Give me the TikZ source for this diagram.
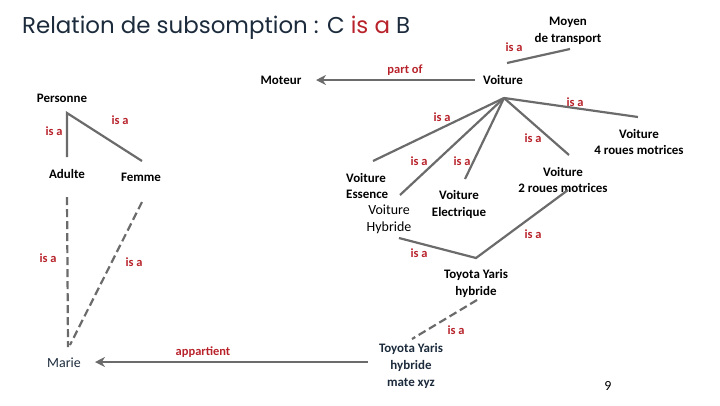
\documentclass[tikz,border=0pt]{standalone}
\usepackage{fontspec}
\setmainfont{Carlito}
\newfontfamily\titrefont{Poppins}
\usetikzlibrary{arrows.meta}
\definecolor{gristrait}{HTML}{6B6B6B}
\definecolor{rougeisa}{HTML}{B8222B}
\definecolor{bleunuit}{HTML}{1C2B3C}

\begin{document}
\begin{tikzpicture}[x=1bp,y=-1bp,>={Stealth[length=10bp,width=10bp]},
  lbl/.style={font=\fontsize{13}{17}\selectfont\bfseries,align=center,inner sep=0pt},
  fin/.style={font=\fontsize{14}{17}\selectfont,align=center,inner sep=0pt},
  rel/.style={font=\fontsize{12.5}{15}\selectfont\bfseries,text=rougeisa,inner sep=0pt},
  trait/.style={draw=gristrait,line width=2.2bp},
  pointille/.style={trait,dash pattern=on 8bp off 4bp}]

  \useasboundingbox (0,0) rectangle (720,405);

  \node[anchor=west,inner sep=0pt,text=bleunuit,font=\titrefont\fontsize{23}{26}\selectfont]
    (TITRE) at (22,28) {Relation de subsomption : C \textcolor{rougeisa}{is a} B};

  % concepts
  \node[lbl] (MT) at (568,31) {Moyen\\de transport};
  \node[lbl] (MO) at (281,80) {Moteur};
  \node[lbl] (V)  at (503,80) {Voiture};
  \node[lbl] (P)  at (62,98) {Personne};
  \node[lbl] (AD) at (67,174) {Adulte};
  \node[lbl] (FE) at (141,177) {Femme};
  \node[lbl] (V4) at (639,142) {Voiture\\4 roues motrices};
  \node[lbl] (V2) at (563,180) {Voiture\\2 roues motrices};
  \node[lbl,align=left,anchor=west] (ES) at (346,186) {Voiture\\Essence};
  \node[fin] (HY) at (389,219) {Voiture\\Hybride};
  \node[lbl] (EL) at (459,204) {Voiture\\Electrique};
  \node[lbl] (TY) at (476,283) {Toyota Yaris\\hybride};

  % individus
  \node[lbl,text=bleunuit] (TM) at (411,366) {Toyota Yaris\\hybride\\mate  xyz};
  \node[fin,text=bleunuit] (MA) at (64,363) {Marie};

  \node[font=\fontsize{14}{17}\selectfont,inner sep=0pt] (NUM) at (608,386) {9};

  % points d'accroche
  \coordinate (HV) at (504,98);
  \coordinate (HP) at (67,113);
  \coordinate (HT) at (476,258);
  \coordinate (MTb) at (570,49);
  \coordinate (Vb) at (507,63);
  \coordinate (Vw) at (475,80);
  \coordinate (MOe) at (316,80);
  \coordinate (V4t) at (638,117);
  \coordinate (V2t) at (569,155);
  \coordinate (ELt) at (465,179);
  \coordinate (HYt) at (400,195);
  \coordinate (ESt) at (373,161);
  \coordinate (HYb) at (399,238);
  \coordinate (V2b) at (568,190);
  \coordinate (ADt) at (67,157);
  \coordinate (FEt) at (142,161);
  \coordinate (ADb) at (67,197);
  \coordinate (FEb) at (142,202);
  \coordinate (MAt) at (68,347);
  \coordinate (MAt2) at (70,345);
  \coordinate (TYb) at (477,300);
  \coordinate (TMt) at (412,339);
  \coordinate (TMw) at (368,362);
  \coordinate (MAe) at (95,362);

  \draw[trait] (Vb) -- (MTb);
  \draw[trait,->] (Vw) -- (MOe);
  \draw[trait] (HV) -- (V4t);
  \draw[trait] (HV) -- (V2t);
  \draw[trait] (HV) -- (ELt);
  \draw[trait] (HV) -- (HYt);
  \draw[trait] (HV) -- (ESt);
  \draw[trait] (HYb) -- (HT) -- (V2b);
  \draw[trait] (ADt) -- (HP) -- (FEt);
  \draw[pointille] (ADb) -- (MAt);
  \draw[pointille] (FEb) -- (MAt2);
  \draw[pointille] (TYb) -- (TMt);
  \draw[trait,->] (TMw) -- (MAe);

  % relations
  \node[rel] at (514,47) {is a};
  \node[rel] at (405,70) {part of};
  \node[rel] at (575,102) {is a};
  \node[rel] at (533,138) {is a};
  \node[rel] at (462,161) {is a};
  \node[rel] at (419,161) {is a};
  \node[rel] at (442,117) {is a};
  \node[rel] at (419,253) {is a};
  \node[rel] at (533,234) {is a};
  \node[rel] at (54,131) {is a};
  \node[rel] at (120,120) {is a};
  \node[rel] at (48,258) {is a};
  \node[rel] at (134,262) {is a};
  \node[rel] at (456,330) {is a};
  \node[rel] at (203,352) {appartient};

\end{tikzpicture}
\end{document}
